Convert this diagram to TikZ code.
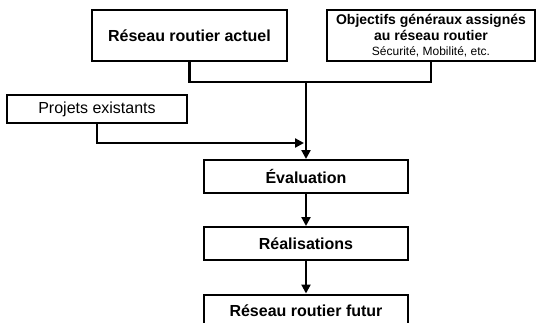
\documentclass[tikz,border=0pt]{standalone}
\usepackage{fontspec}
\setmainfont{Liberation Sans}
\usetikzlibrary{arrows.meta}

\begin{document}
\begin{tikzpicture}[x=1pt, y=-1pt,
        stage/.style={draw, line width=2pt, inner sep=0pt, minimum width=204pt, minimum height=33pt,
            align=center, font=\bfseries\fontsize{16}{19}\selectfont},
        link/.style={line width=2.2pt},
        flow/.style={line width=2.2pt, -{Triangle[length=9pt,width=9pt]}}]
            \clip (0,0) rectangle (538,322);

            % Top boxes
            \node[stage, minimum width=195pt, minimum height=51pt]
                (actuel) at (189.5,35.5) {R\'eseau routier actuel};
            \node[stage, minimum width=208pt, minimum height=51pt, font=\bfseries\fontsize{14}{17}\selectfont]
                (objectifs) at (431,35.5) {Objectifs g\'en\'eraux assign\'es\\[-1pt]au r\'eseau routier\\[-2pt]
                {\mdseries\fontsize{12}{13}\selectfont S\'ecurit\'e, Mobilit\'e, etc.}};

            % Side input
            \node[stage, minimum width=180pt, minimum height=28pt, font=\fontsize{16}{19}\selectfont]
                (projets) at (97,109) {Projets existants};

            % Main chain
            \node[stage] (evaluation) at (306,176.5) {\'Evaluation};
            \node[stage] (realisations) at (306,243.5) {R\'ealisations};
            \node[stage] (futur) at (306,311) {R\'eseau routier futur};

            % Join points on the main line
            \coordinate (jonction) at (306,82);
            \coordinate (entree) at (304,143);

            % Draw lines between the boxes
            \draw[link] (actuel.south) |- (jonction) -| (objectifs.south);
            \draw[flow] (jonction) -- (evaluation.north);
            \draw[flow] (projets.south) |- (entree);
            \draw[flow] (evaluation.south) -- (realisations.north);
            \draw[flow] (realisations.south) -- (futur.north);
        \end{tikzpicture}
\end{document}
